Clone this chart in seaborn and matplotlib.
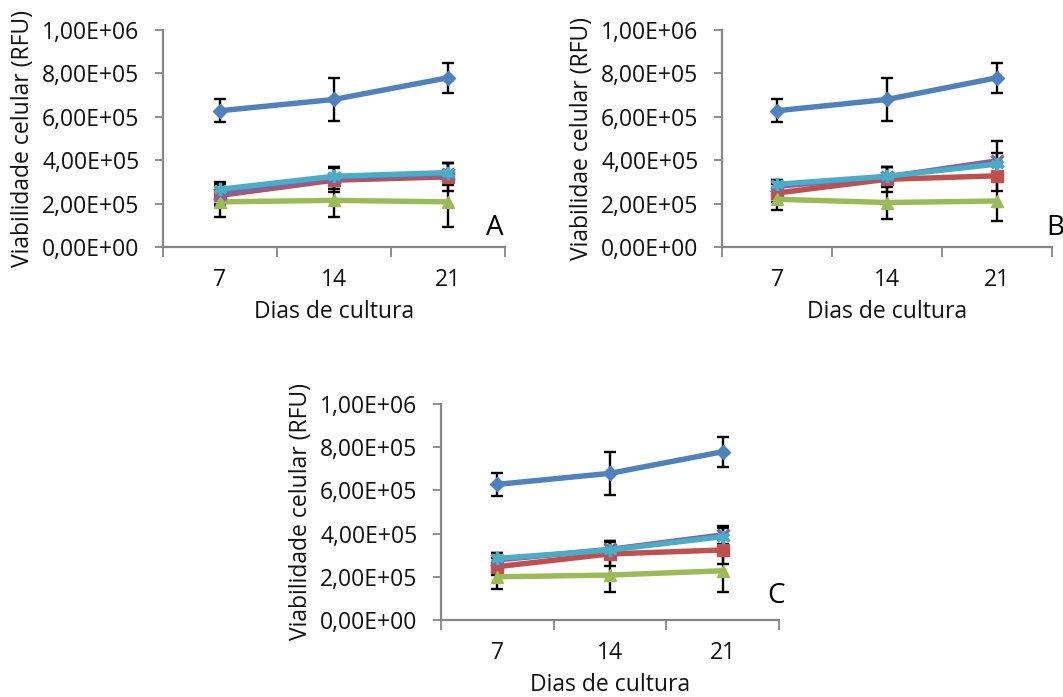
import numpy as np
import pandas as pd
import matplotlib
matplotlib.use("Agg")
import matplotlib.pyplot as plt
import seaborn as sns

sns.set_style("white")
plt.rcParams["font.family"] = ["Open Sans", "DejaVu Sans"]

# Culture days (categories on the x axis)
days = ["7", "14", "21"]

# Series order and styling (Excel-like palette)
series_names = ["S1", "S2", "S3", "S4", "S5"]
colors = ["#4F81BD", "#C0504D", "#9BBB59", "#8064A2", "#4BACC6"]
markers = ["D", "s", "^", "x", (6, 2, 0)]
marker_sizes = [7, 8, 9, 8.5, 9.5]

# Panel A
a_s1 = [6.28e5, 6.80e5, 7.80e5]
a_s2 = [2.38e5, 3.08e5, 3.23e5]
a_s3 = [2.08e5, 2.15e5, 2.08e5]
a_s4 = [2.46e5, 3.18e5, 3.35e5]
a_s5 = [2.66e5, 3.26e5, 3.43e5]
a_err = [[5.2e4, 1.0e5, 7.0e4],
         [5.0e4, 5.5e4, 6.5e4],
         [7.0e4, 7.8e4, 1.16e5],
         [5.0e4, 5.0e4, 5.0e4],
         [3.5e4, 4.3e4, 4.6e4]]

# Panel B
b_s1 = [6.28e5, 6.80e5, 7.80e5]
b_s2 = [2.49e5, 3.12e5, 3.28e5]
b_s3 = [2.20e5, 2.05e5, 2.12e5]
b_s4 = [2.80e5, 3.23e5, 3.97e5]
b_s5 = [2.89e5, 3.26e5, 3.82e5]
b_err = [[5.2e4, 1.0e5, 7.0e4],
         [4.0e4, 5.8e4, 6.8e4],
         [5.0e4, 7.4e4, 9.0e4],
         [3.0e4, 4.5e4, 9.0e4],
         [2.0e4, 4.3e4, 5.0e4]]

# Panel C
c_s1 = [6.28e5, 6.79e5, 7.79e5]
c_s2 = [2.47e5, 3.06e5, 3.24e5]
c_s3 = [2.00e5, 2.08e5, 2.28e5]
c_s4 = [2.78e5, 3.27e5, 3.94e5]
c_s5 = [2.85e5, 3.24e5, 3.86e5]
c_err = [[5.2e4, 1.0e5, 7.0e4],
         [4.0e4, 5.5e4, 6.4e4],
         [5.5e4, 7.8e4, 1.0e5],
         [3.0e4, 4.0e4, 4.0e4],
         [2.4e4, 4.2e4, 4.0e4]]

y_ticks = [0, 2e5, 4e5, 6e5, 8e5, 1e6]
y_tick_labels = ["0,00E+00", "2,00E+05", "4,00E+05", "6,00E+05", "8,00E+05", "1,00E+06"]

panels = [
    dict(values=[a_s1, a_s2, a_s3, a_s4, a_s5], err=a_err, letter="A",
         ylabel="Viabilidade celular (RFU)", box=(163, 30, 505, 247),
         letter_pos=(495, 228)),
    dict(values=[b_s1, b_s2, b_s3, b_s4, b_s5], err=b_err, letter="B",
         ylabel="Viabilidae celular (RFU)", box=(722, 30, 1052, 247),
         letter_pos=(1055, 228)),
    dict(values=[c_s1, c_s2, c_s3, c_s4, c_s5], err=c_err, letter="C",
         ylabel="Viabilidade celular (RFU)", box=(441, 404, 779, 620),
         letter_pos=(776, 596)),
]

W, H = 1063, 697
fig = plt.figure(figsize=(W / 100, H / 100), dpi=100)
spine_color = "#868686"

for p in panels:
    x0, y0, x1, y1 = p["box"]
    ax = fig.add_axes([x0 / W, 1 - y1 / H, (x1 - x0) / W, (y1 - y0) / H])
    pos = np.arange(len(days))

    for name, vals, err, c, m, ms in zip(series_names, p["values"], p["err"],
                                         colors, markers, marker_sizes):
        ax.errorbar(pos, vals, yerr=err, fmt="none", ecolor="black",
                    elinewidth=1.7, capsize=4.5, capthick=1.7, zorder=2)
        df = pd.DataFrame({"pos": pos, "valor": vals})
        sns.lineplot(data=df, x="pos", y="valor", ax=ax, color=c, lw=3.9,
                     marker=m, markersize=ms, markeredgecolor=c,
                     markeredgewidth=2.4 if m in ("x", (6, 2, 0)) else 1.0,
                     markerfacecolor=c, zorder=3, legend=False)

    ax.set_xlim(-0.5, len(days) - 0.5)
    ax.set_ylim(0, 1e6)
    ax.set_yticks(y_ticks)
    ax.set_yticklabels(y_tick_labels)
    ax.set_xticks(np.arange(len(days) + 1) - 0.5)
    ax.set_xticklabels([])
    ax.set_xticks(pos, minor=True)
    ax.set_xticklabels(days, minor=True)

    ax.tick_params(axis="y", which="major", direction="out", length=6,
                   width=1.3, color=spine_color, pad=11, labelsize=16.5,
                   left=True, labelcolor="#111111")
    ax.tick_params(axis="x", which="major", direction="out", length=7,
                   width=1.3, color=spine_color, bottom=True)
    ax.tick_params(axis="x", which="minor", length=0, pad=15, labelsize=16.5,
                   labelcolor="#111111")

    for s in ("top", "right"):
        ax.spines[s].set_visible(False)
    for s in ("left", "bottom"):
        ax.spines[s].set_color(spine_color)
        ax.spines[s].set_linewidth(1.6)

    ax.set_xlabel("Dias de cultura", fontsize=16.5, labelpad=6, color="#111111")
    ax.set_ylabel(p["ylabel"], fontsize=16.5, labelpad=5, color="#111111")
    ax.set_facecolor("none")

    lx, ly = p["letter_pos"]
    fig.text(lx / W, 1 - ly / H, p["letter"], fontsize=20, ha="center",
             va="center", color="black")

fig.savefig("out.png", dpi=100, facecolor="white")
